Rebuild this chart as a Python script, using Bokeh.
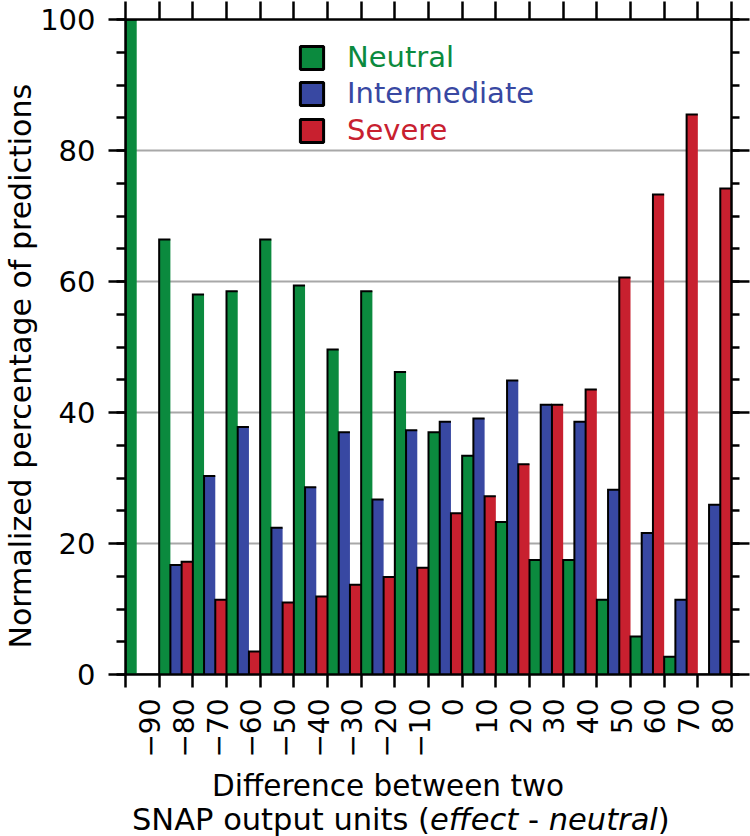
import numpy as np
from bokeh.plotting import figure
from bokeh.models import Range1d, LinearAxis, FixedTicker, Legend, LegendItem, Title, Div
from bokeh.layouts import column
from bokeh.embed import file_html
from bokeh.resources import INLINE

# ---------------- data ----------------
diffs = [-90, -80, -70, -60, -50, -40, -30, -20, -10, 0, 10, 20, 30, 40, 50, 60, 70, 80]
neutral = [100, 66.4, 58.0, 58.5, 66.4, 59.4, 49.6, 58.5, 46.2, 37.0, 33.4, 23.3, 17.5, 17.5, 11.4, 5.8, 2.7, 0]
intermediate = [0, 16.7, 30.3, 37.8, 22.4, 28.6, 37.0, 26.7, 37.3, 38.6, 39.1, 44.9, 41.2, 38.6, 28.2, 21.6, 11.4, 25.9]
severe = [0, 17.2, 11.4, 3.5, 11.0, 11.9, 13.7, 14.9, 16.3, 24.6, 27.2, 32.1, 41.2, 43.5, 60.6, 73.3, 85.5, 74.2]
x_tick_labels = ["\u221290", "\u221280", "\u221270", "\u221260", "\u221250", "\u221240", "\u221230",
                 "\u221220", "\u221210", "0", "10", "20", "30", "40", "50", "60", "70", "80"]
y_major = [0, 20, 40, 60, 80, 100]
y_minor = list(range(0, 101, 5))
series_names = ["Neutral", "Intermediate", "Severe"]

GREEN = "#0b8a3e"
BLUE = "#3848a2"
RED = "#c8202f"
GRID = "#a8a8a8"
FONT = "DejaVu Sans"

X0, X1 = -95, 85

p = figure(width=750, height=760, x_range=Range1d(X0, X1), y_range=Range1d(0, 100),
           output_backend="svg", toolbar_location=None,
           x_axis_location=None, y_axis_location=None,
           min_border_left=120, min_border_right=19, min_border_top=19, min_border_bottom=84)
p.outline_line_color = None
p.background_fill_color = "white"
p.border_fill_color = "white"
p.xgrid.visible = False
p.ygrid.ticker = FixedTicker(ticks=[20, 40, 60, 80])
p.ygrid.grid_line_color = GRID
p.ygrid.grid_line_width = 2

# ---------------- bars ----------------
bw = 10 / 3
offsets = [-bw, 0, bw]
colors = [GREEN, BLUE, RED]
xs, ys = [], []
for off, vals, col in zip(offsets, [neutral, intermediate, severe], colors):
    xc = [d + off for d in diffs]
    p.vbar(x=xc, top=vals, width=bw, bottom=0, fill_color=col, line_color=None)
    for x, v in zip(xc, vals):
        l, r = x - bw / 2, x + bw / 2
        xs.append([l, l, r])
        ys.append([0, v, v])
p.multi_line(xs, ys, line_color="black", line_width=2, line_join="miter")


# ---------------- axes ----------------
def style(ax, tick_out, minor_out=0, lw=2.5):
    ax.axis_line_color = "black"
    ax.axis_line_width = lw
    ax.major_tick_line_color = "black"
    ax.major_tick_line_width = lw
    ax.major_tick_in = 0
    ax.major_tick_out = tick_out
    ax.minor_tick_in = 0
    ax.minor_tick_out = minor_out
    ax.minor_tick_line_width = lw
    ax.minor_tick_line_color = "black" if minor_out else None


def hide_labels(ax, ticks):
    ax.major_label_overrides = {t: "" for t in ticks}
    ax.major_label_text_font_size = "1px"
    ax.major_label_standoff = 0


left = LinearAxis(ticker=FixedTicker(ticks=y_major, minor_ticks=y_minor))
style(left, 17, 9)
left.major_label_text_font = FONT
left.major_label_text_font_size = "29px"
left.major_label_text_color = "black"
left.major_label_standoff = 13
p.add_layout(left, "left")

right = LinearAxis(ticker=FixedTicker(ticks=y_major, minor_ticks=y_minor))
style(right, 18, 8)
hide_labels(right, y_major)
p.add_layout(right, "right")

bounds = [d - 5 for d in diffs] + [diffs[-1] + 5]
top = LinearAxis(ticker=FixedTicker(ticks=bounds, minor_ticks=[]))
style(top, 18)
hide_labels(top, bounds)
p.add_layout(top, "above")

bottom = LinearAxis(ticker=FixedTicker(ticks=bounds, minor_ticks=[]))
style(bottom, 13)
hide_labels(bottom, bounds)
p.add_layout(bottom, "below")

lab_pos = [d + 2.25 for d in diffs]
blab = LinearAxis(ticker=FixedTicker(ticks=lab_pos, minor_ticks=[]))
blab.axis_line_color = None
blab.major_tick_line_color = None
blab.minor_tick_line_color = None
blab.major_tick_out = 0
blab.major_tick_in = 0
blab.major_label_orientation = np.pi / 2
blab.major_label_overrides = {pos: lab for pos, lab in zip(lab_pos, x_tick_labels)}
blab.major_label_text_font = FONT
blab.major_label_text_font_size = "28px"
blab.major_label_text_color = "black"
blab.major_label_standoff = 11
p.add_layout(blab, "below")

# y-axis title (starts a little above the frame bottom, as in the original)
p.add_layout(Title(text="Normalized percentage of predictions", align="left", offset=26,
                   text_font=FONT, text_font_size="30px", text_font_style="normal",
                   text_color="black", standoff=0), "left")

# ---------------- legend (three, one per colour) ----------------
legend_rows = [600, 564, 527]
for name, col, ly in zip(series_names, colors, legend_rows):
    dummy = p.vbar(x=np.array([np.nan]), top=np.array([np.nan]), width=1,
                   fill_color=col, line_color="black", line_width=3)
    lg = Legend(items=[LegendItem(label=name, renderers=[dummy])], location=(172, ly),
                glyph_width=29, glyph_height=29, label_height=29,
                label_text_font=FONT, label_text_font_size="29px", label_text_color=col,
                label_standoff=21, padding=0, margin=0, spacing=0,
                border_line_color=None, background_fill_alpha=0)
    p.add_layout(lg)

# ---------------- x-axis title (two lines, with italics) ----------------
xtitle = Div(width=750, height=76, text=(
    '<div style="font-family:\'DejaVu Sans\';color:black;padding-top:4px;white-space:nowrap">'
    '<div style="padding-left:207px;font-size:29.5px;line-height:34px">Difference between two</div>'
    '<div style="padding-left:127px;font-size:30.5px;line-height:34px">'
    'SNAP output units (<i>effect</i> - <i>neutral</i>)</div>'
    '</div>'))

layout = column(p, xtitle, spacing=0)
open("out.html", "w").write(file_html(layout, INLINE))
